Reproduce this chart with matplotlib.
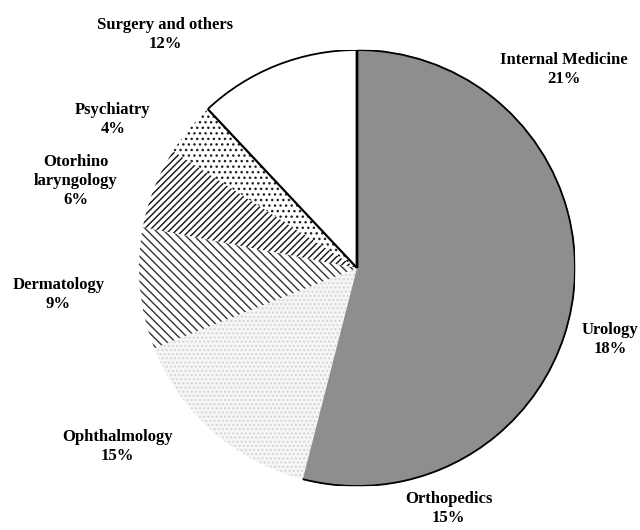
import numpy as np
import matplotlib
matplotlib.use("Agg")
import matplotlib.pyplot as plt
from matplotlib.patches import Arc

# data
departments = ["Internal Medicine", "Urology", "Orthopedics", "Ophthalmology",
               "Dermatology", "Otorhino\nlaryngology", "Psychiatry", "Surgery and others"]
shares = [21, 18, 15, 15, 9, 6, 4, 12]

# style per wedge
faces = ["#8e8e8e", "#8e8e8e", "#8e8e8e", "#f6f6f6", "white", "white", "white", "white"]
hatches = [None, None, None, "....", "\\\\\\\\", "/////", "...", None]
hatch_cols = [None, None, None, "#d4d4d4", "#333333", "#111111", "#222222", None]
outlined = [True, True, True, False, False, False, False, True]

# label positions in pie units (centre of text block)
label_xy = [(0.95, 0.91), (1.16, -0.33), (0.42, -1.105), (-1.10, -0.82),
            (-1.37, -0.12), (-1.29, 0.40), (-1.12, 0.68), (-0.88, 1.07)]

plt.rcParams["font.family"] = ["Liberation Serif", "DejaVu Serif"]
plt.rcParams["hatch.linewidth"] = 1.0

fig = plt.figure(figsize=(6.4, 5.3), dpi=100)
ax = fig.add_axes([139 / 640, 44 / 530, 436 / 640, 436 / 530])
ax.set_aspect("equal")

wedges, _ = ax.pie(shares, startangle=90, counterclock=False, radius=1.0,
                   wedgeprops=dict(linewidth=0))

for w, fc, h, hc in zip(wedges, faces, hatches, hatch_cols):
    w.set_facecolor(fc)
    if h:
        w.set_hatch(h)
        w.set_edgecolor(hc)
        w.set_linewidth(0)
    elif fc != "white":
        # same-colour edge hides the seams between the dark wedges
        w.set_edgecolor(fc)
        w.set_linewidth(0.8)

# outer outline on the dark block and the white wedge
for w, o in zip(wedges, outlined):
    if o:
        ax.add_patch(Arc((0, 0), 2, 2, theta1=w.theta1, theta2=w.theta2,
                         color="black", lw=1.3, zorder=3))

# radial boundary lines of the white wedge
sw = wedges[-1]
for ang, lw in [(sw.theta1, 2.0), (sw.theta2, 1.6)]:
    a = np.deg2rad(ang)
    ax.plot([0, np.cos(a)], [0, np.sin(a)], color="black", lw=lw, zorder=4,
            solid_capstyle="butt")

for name, s, (lx, ly) in zip(departments, shares, label_xy):
    ax.text(lx, ly, f"{name}\n{s}%", ha="center", va="center", fontsize=12,
            fontweight="bold", linespacing=1.25)

ax.set_xlim(-1, 1)
ax.set_ylim(-1, 1)
ax.axis("off")

fig.savefig("out.png", dpi=100)
